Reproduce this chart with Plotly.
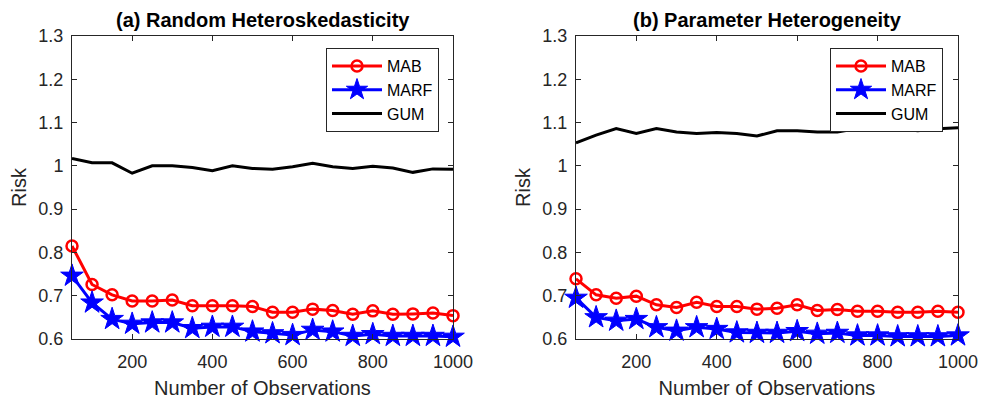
import plotly.graph_objects as go

n_obs = list(range(50, 1001, 50))

a_mab = [0.815, 0.726, 0.702, 0.688, 0.688, 0.690, 0.677, 0.677, 0.677, 0.675,
         0.662, 0.662, 0.669, 0.666, 0.657, 0.665, 0.657, 0.658, 0.660, 0.654]
a_marf = [0.746, 0.684, 0.646, 0.635, 0.638, 0.638, 0.625, 0.628, 0.628, 0.617,
          0.613, 0.609, 0.621, 0.617, 0.607, 0.611, 0.607, 0.607, 0.607, 0.605]
a_gum = [1.017, 1.007, 1.007, 0.983, 1.000, 1.000, 0.996, 0.989, 1.000, 0.994,
         0.992, 0.998, 1.006, 0.998, 0.994, 0.999, 0.995, 0.985, 0.993, 0.992]

b_mab = [0.739, 0.702, 0.694, 0.699, 0.679, 0.673, 0.685, 0.675, 0.675, 0.669,
         0.671, 0.679, 0.666, 0.668, 0.664, 0.664, 0.662, 0.662, 0.664, 0.662]
b_marf = [0.695, 0.650, 0.642, 0.646, 0.627, 0.619, 0.627, 0.623, 0.615, 0.614,
          0.614, 0.618, 0.612, 0.614, 0.608, 0.608, 0.606, 0.606, 0.606, 0.608]
b_gum = [1.053, 1.071, 1.086, 1.075, 1.086, 1.078, 1.075, 1.077, 1.075, 1.069,
         1.081, 1.081, 1.078, 1.078, 1.086, 1.084, 1.086, 1.081, 1.086, 1.088]

titles = ["(a) Random Heteroskedasticity", "(b) Parameter Heterogeneity"]
series_names = ["MAB", "MARF", "GUM"]
y_ticks = [0.6, 0.7, 0.8, 0.9, 1.0, 1.1, 1.2, 1.3]
y_ticklabels = ["0.6", "0.7", "0.8", "0.9", "1", "1.1", "1.2", "1.3"]
x_ticks = [200, 400, 600, 800, 1000]

FONT = "Liberation Sans, Arial, Helvetica, sans-serif"
W, H = 981, 399
dom_x = [[72 / W, 453 / W], [576 / W, 958 / W]]
dom_y = [1 - 339 / H, 1 - 36 / H]

fig = go.Figure()

panels = [(a_mab, a_marf, a_gum), (b_mab, b_marf, b_gum)]
for i, (mab, marf, gum) in enumerate(panels):
    xa = "x" if i == 0 else "x2"
    ya = "y" if i == 0 else "y2"
    lg = "legend" if i == 0 else "legend2"
    fig.add_trace(go.Scatter(
        x=n_obs, y=mab, name=series_names[0], mode="lines+markers",
        line=dict(color="#ff0000", width=3),
        marker=dict(symbol="circle-open", size=11, color="#ff0000",
                    line=dict(width=2.5, color="#ff0000")),
        xaxis=xa, yaxis=ya, legend=lg, cliponaxis=False))
    fig.add_trace(go.Scatter(
        x=n_obs, y=marf, name=series_names[1], mode="lines+markers",
        line=dict(color="#0000ff", width=3),
        marker=dict(symbol="star", size=17, color="#0000ff",
                    line=dict(width=1, color="#0000ff")),
        xaxis=xa, yaxis=ya, legend=lg, cliponaxis=False))
    fig.add_trace(go.Scatter(
        x=n_obs, y=gum, name=series_names[2], mode="lines",
        line=dict(color="#000000", width=3),
        xaxis=xa, yaxis=ya, legend=lg, cliponaxis=False))

axis_common = dict(
    showline=True, linecolor="#262626", linewidth=1, mirror="ticks",
    ticks="inside", ticklen=5, tickcolor="#262626", showgrid=False,
    zeroline=False, tickfont=dict(family=FONT, size=18, color="#262626"),
    automargin=False,
)

for i in range(2):
    sx = "" if i == 0 else "2"
    fig.update_layout(**{
        f"xaxis{sx}": dict(axis_common, domain=dom_x[i], range=[50, 1000],
                           tickvals=x_ticks, anchor=f"y{sx}", ticklabelstandoff=6,
                           title=dict(text="Number of Observations",
                                      font=dict(family=FONT, size=20, color="#262626"))),
        f"yaxis{sx}": dict(axis_common, domain=dom_y, range=[0.6, 1.3],
                           tickvals=y_ticks, ticktext=y_ticklabels, anchor=f"x{sx}",
                           ticklabelstandoff=4,
                           title=dict(text="Risk", standoff=6,
                                      font=dict(family=FONT, size=20, color="#262626"))),
    })
    cx = (dom_x[i][0] + dom_x[i][1]) / 2
    fig.add_annotation(text=f"<b>{titles[i]}</b>", x=cx, y=1 - 20 / H,
                       xref="paper", yref="paper", showarrow=False,
                       xanchor="center", yanchor="middle",
                       font=dict(family=FONT, size=20, color="#000000"))

legend_common = dict(
    bgcolor="#ffffff", bordercolor="#262626", borderwidth=1,
    font=dict(family=FONT, size=16, color="#000000"),
    xanchor="right", yanchor="top", tracegroupgap=0, itemwidth=50,
)
fig.update_layout(
    legend=dict(legend_common, x=439 / W, y=1 - 48 / H),
    legend2=dict(legend_common, x=943 / W, y=1 - 48 / H),
    width=W, height=H, margin=dict(l=0, r=0, t=0, b=0),
    paper_bgcolor="#ffffff", plot_bgcolor="#ffffff",
    showlegend=True,
)

fig.write_html(
    "out.html",
    config={"displayModeBar": False},
    post_script="document.body.style.margin='0';document.body.style.overflow='hidden';",
)
